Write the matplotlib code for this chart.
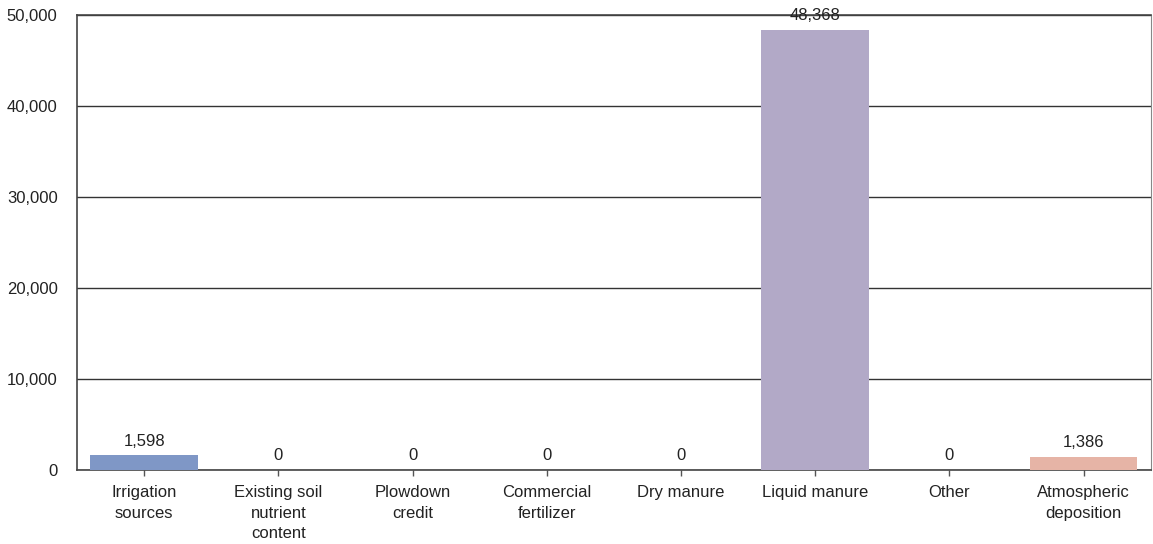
import matplotlib
matplotlib.use("Agg")
import matplotlib.pyplot as plt
from matplotlib.ticker import FuncFormatter

categories = ["Irrigation\nsources", "Existing soil\nnutrient\ncontent", "Plowdown\ncredit",
              "Commercial\nfertilizer", "Dry manure", "Liquid manure", "Other",
              "Atmospheric\ndeposition"]
values = [1598, 0, 0, 0, 0, 48368, 0, 1386]
colors = ["#7f97c6", "#9aa9cc", "#9aa9cc", "#9aa9cc", "#9aa9cc", "#b2a9c7", "#d9534f", "#e6b4a6"]
yticks = [0, 10000, 20000, 30000, 40000, 50000]

plt.rcParams['font.family'] = ['Liberation Sans', 'DejaVu Sans']
fig = plt.figure(figsize=(11.53, 5.44), dpi=100)
ax = fig.add_axes([0.0668, 0.136, 0.9312, 0.8364])

x = list(range(len(categories)))
ax.bar(x, values, width=0.8, color=colors, zorder=3)
ax.set_xlim(-0.5, len(categories) - 0.5)
ax.set_ylim(0, 50000)
ax.set_yticks(yticks)
ax.yaxis.set_major_formatter(FuncFormatter(lambda v, p: f"{int(v):,}"))
ax.set_xticks(x)
ax.set_xticklabels(categories, fontsize=12, color="#222222", linespacing=1.45)
ax.tick_params(axis='y', length=0, pad=14, labelsize=12, labelcolor="#222222")
ax.tick_params(axis='x', length=4, width=1, color="#555555", pad=7, direction='out')
ax.grid(axis='y', color="#333333", linewidth=1.0, zorder=1)
for s in ax.spines.values():
    s.set_color("#444444")
    s.set_linewidth(1.2)
ax.spines['right'].set_color("#888888")
ax.spines['right'].set_linewidth(0.8)

for xi, v in zip(x, values):
    ax.annotate(f"{v:,}", (xi, v), xytext=(0, 5), textcoords="offset points",
                ha="center", va="bottom", fontsize=12, color="#222222", zorder=4)

fig.savefig("out.png", dpi=100)
